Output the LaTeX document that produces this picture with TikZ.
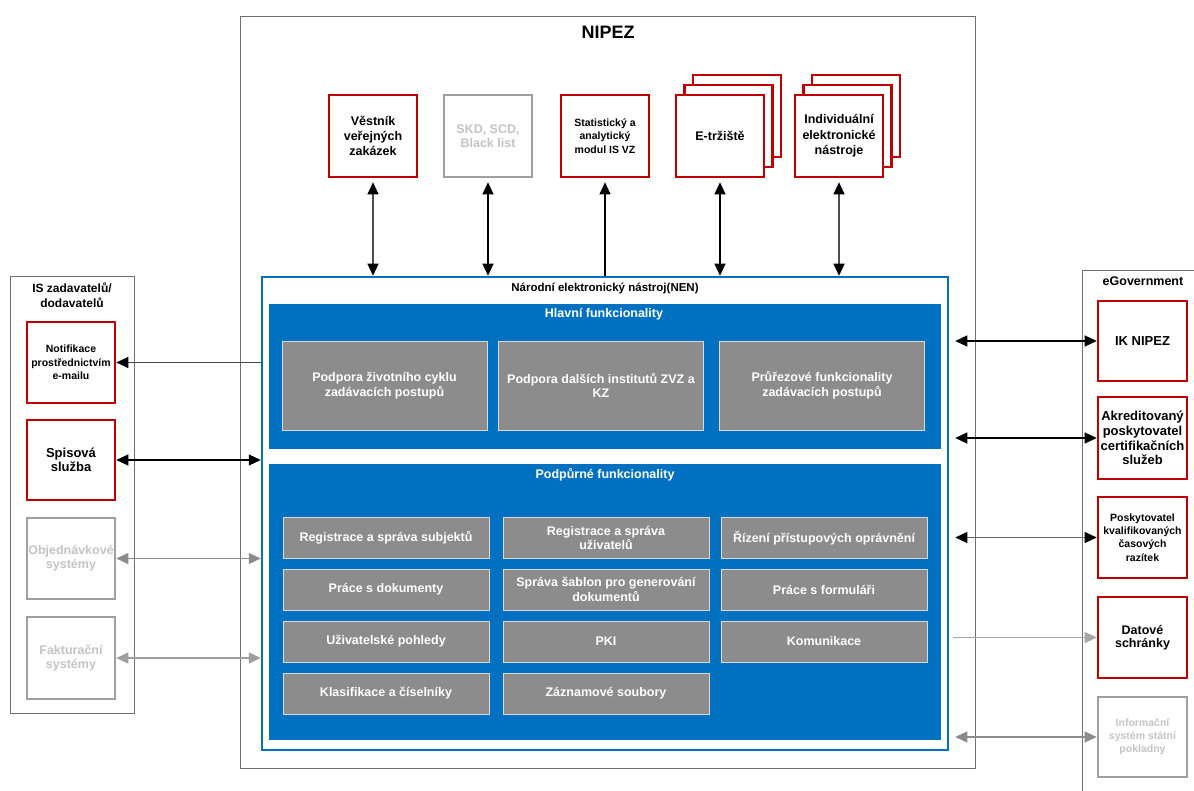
\documentclass[tikz,border=0pt]{standalone}
\usepackage{fontspec}
\setmainfont{Liberation Sans}
\usetikzlibrary{arrows.meta}
\definecolor{nred}{HTML}{C00000}
\definecolor{nblue}{HTML}{0070C0}
\definecolor{fgray}{HTML}{8C8C8C}
\definecolor{dgray}{HTML}{A0A0A0}
\definecolor{tgray}{HTML}{C4C4C4}
\definecolor{framec}{HTML}{707070}
\newcommand{\fsz}[2]{\fontsize{#1}{#2}\selectfont}
\tikzset{
  redbox/.style={draw=nred, line width=2.6pt, fill=white, minimum width=88pt, minimum height=82pt, inner sep=1pt, align=center},
  offbox/.style={redbox, draw=dgray, text=tgray},
  func/.style={fill=fgray, draw=white!85!black, line width=0.8pt, text=white, align=center, inner sep=0pt, font=\bfseries\fsz{12.5}{14.5}},
  panel/.style={draw=framec, line width=1pt, inner sep=0pt},
  dblB/.style={line width=1.1pt, arrows={Triangle[length=12pt,width=11pt,color=black]-Triangle[length=12pt,width=11pt,color=black]}},
  endB/.style={line width=1.1pt, arrows={-Triangle[length=12pt,width=11pt,color=black]}},
  dblG/.style={line width=1.1pt, arrows={Triangle[length=12pt,width=11pt]-Triangle[length=12pt,width=11pt]}},
  endG/.style={line width=1.1pt, arrows={-Triangle[length=12pt,width=11pt]}},
  stackbox/.style={draw=nred, line width=2.6pt, fill=white}
}
\begin{document}
\begin{tikzpicture}[x=1pt,y=-1pt]
\useasboundingbox[fill=white] (0,0) rectangle (1194,791);

% outer NIPEZ frame
\node[panel, minimum width=735pt, minimum height=751pt] (outer) at (607.5,392.5) {};
\node[font=\bfseries\fsz{18}{20}] (nipez) at (608,32) {NIPEZ};

% top boxes
\node[redbox, font=\bfseries\fsz{12.5}{15}] (ves) at (373,136) {Věstník\\veřejných\\zakázek};
\node[offbox, font=\bfseries\fsz{12.5}{14.5}] (skd) at (488,136) {SKD, SCD,\\Black list};
\node[redbox, font=\bfseries\fsz{10.5}{13.7}] (stat) at (605,136) {Statistický a\\analytický\\modul IS VZ};
\draw[stackbox] (693,75) rectangle (781,157);
\draw[stackbox] (684.5,85) rectangle (772.5,167);
\node[redbox, font=\bfseries\fsz{12.5}{15}] (etr) at (720,136) {E-tržiště};
\draw[stackbox] (812,75) rectangle (900,157);
\draw[stackbox] (803.5,85) rectangle (891.5,167);
\node[redbox, font=\bfseries\fsz{12.5}{15.5}] (ind) at (839,136) {Individuální\\elektronické\\nástroje};

% NEN
\node[draw=nblue, line width=2.5pt, minimum width=686pt, minimum height=473pt, inner sep=0pt] (nen) at (605,513.5) {};
\node[font=\bfseries\fsz{11.5}{13}] (nentitle) at (605,288) {Národní elektronický nástroj(NEN)};

\node[fill=nblue, minimum width=672pt, minimum height=145pt, inner sep=0pt] (hlavni) at (605,376.5) {};
\node[font=\bfseries\fsz{12.5}{14}, text=white] (htitle) at (604,314) {Hlavní funkcionality};
\node[func, minimum width=205pt, minimum height=89pt] (h1) at (384.5,385.5) {Podpora životního cyklu\\zadávacích postupů};
\node[func, minimum width=205pt, minimum height=89pt] (h2) at (601,385.5) {Podpora dalších institutů ZVZ a\\KZ};
\node[func, minimum width=205pt, minimum height=89pt] (h3) at (822,385.5) {Průřezové funkcionality\\zadávacích postupů};

\node[fill=nblue, minimum width=672pt, minimum height=276pt, inner sep=0pt] (podp) at (605,602) {};
\node[font=\bfseries\fsz{12.5}{14}, text=white] (ptitle) at (605,475) {Podpůrné funkcionality};
\tikzset{grid/.style={func, minimum width=206pt, minimum height=41pt}}
\node[grid] (p11) at (386,538) {Registrace a správa subjektů};
\node[grid] (p12) at (606,538) {Registrace a správa\\uživatelů};
\node[grid] (p13) at (824,538) {Řízení přístupových oprávnění};
\node[grid] (p21) at (386,589.5) {Práce s dokumenty};
\node[grid] (p22) at (606,589.5) {Správa šablon pro generování\\dokumentů};
\node[grid] (p23) at (824,589.5) {Práce s formuláři};
\node[grid] (p31) at (386,641.5) {Uživatelské pohledy};
\node[grid] (p32) at (606,641.5) {PKI};
\node[grid] (p33) at (824,641.5) {Komunikace};
\node[grid] (p41) at (386,693.5) {Klasifikace a číselníky};
\node[grid] (p42) at (606,693.5) {Záznamové soubory};

% left panel
\node[panel, minimum width=124pt, minimum height=436pt] (isz) at (72,495) {};
\node[font=\bfseries\fsz{12}{15.3}, align=center] (isztitle) at (72,295) {IS zadavatelů/\\dodavatelů};
\node[redbox, minimum height=81pt, font=\bfseries\fsz{10.5}{13.5}] (notif) at (71,362.5) {Notifikace\\prostřednictvím\\e-mailu};
\node[redbox, minimum height=80pt, font=\bfseries\fsz{13}{14.3}] (spis) at (71,460) {Spisová\\služba};
\node[offbox, minimum height=81pt, font=\bfseries\fsz{12.5}{14}] (obj) at (71,558.5) {Objednávkové\\systémy};
\node[offbox, minimum height=82pt, font=\bfseries\fsz{12.5}{14}] (fakt) at (71,658) {Fakturační\\systémy};

% right panel
\node[panel, minimum width=130pt, minimum height=540pt, anchor=north west] (egov) at (1082,270) {};
\node[font=\bfseries\fsz{12.5}{14}] (egovtitle) at (1143,281) {eGovernment};
\node[redbox, minimum width=89pt, minimum height=80pt, font=\bfseries\fsz{13}{15}] (ik) at (1142.5,341) {IK NIPEZ};
\node[redbox, minimum width=89pt, minimum height=82pt, inner sep=0pt, font=\bfseries\fsz{13}{14.8}] (akr) at (1142.5,438) {Akreditovaný\\poskytovatel\\certifikačních\\služeb};
\node[redbox, minimum width=89pt, minimum height=81pt, font=\bfseries\fsz{10.5}{13.3}] (posk) at (1142.5,537.5) {Poskytovatel\\kvalifikovaných\\časových\\razítek};
\node[redbox, minimum width=89pt, minimum height=81pt, font=\bfseries\fsz{12.5}{13.5}] (dat) at (1142.5,637.5) {Datové\\schránky};
\node[offbox, minimum width=89pt, minimum height=80pt, font=\bfseries\fsz{10.5}{13}] (inf) at (1142.5,737) {Informační\\systém státní\\pokladny};

% top arrows
\draw[dblB, draw=black!70, shorten <=4pt] (ves.south) -- (ves.south |- nen.north);
\draw[dblB, shorten <=4pt] (skd.south) -- (skd.south |- nen.north);
\draw[endB, shorten >=4pt] (stat.south |- nen.north) -- (stat.south);
\draw[dblB, shorten <=4pt] (etr.south) -- (etr.south |- nen.north);
\draw[dblB, draw=black!70, shorten <=4pt] (ind.south) -- (ind.south |- nen.north);

% left arrows
\draw[endB, draw=black!70] (notif.east -| nen.west) -- (notif.east);
\draw[dblB] (spis.east) -- (spis.east -| nen.west);
\draw[dblG, draw=black!45] (obj.east) -- (obj.east -| nen.west);
\draw[dblG, draw=black!38] (fakt.east) -- (fakt.east -| nen.west);

% right arrows
\draw[dblB, shorten <=6pt] (ik.west -| nen.east) -- (ik.west);
\draw[dblB, shorten <=6pt] (akr.west -| nen.east) -- (akr.west);
\draw[dblB, draw=black!60, shorten <=6pt] (posk.west -| nen.east) -- (posk.west);
\draw[endG, draw=black!35, shorten <=4pt] (dat.west -| nen.east) -- (dat.west);
\draw[dblG, draw=black!45, shorten <=6pt] (inf.west -| nen.east) -- (inf.west);
\end{tikzpicture}
\end{document}
